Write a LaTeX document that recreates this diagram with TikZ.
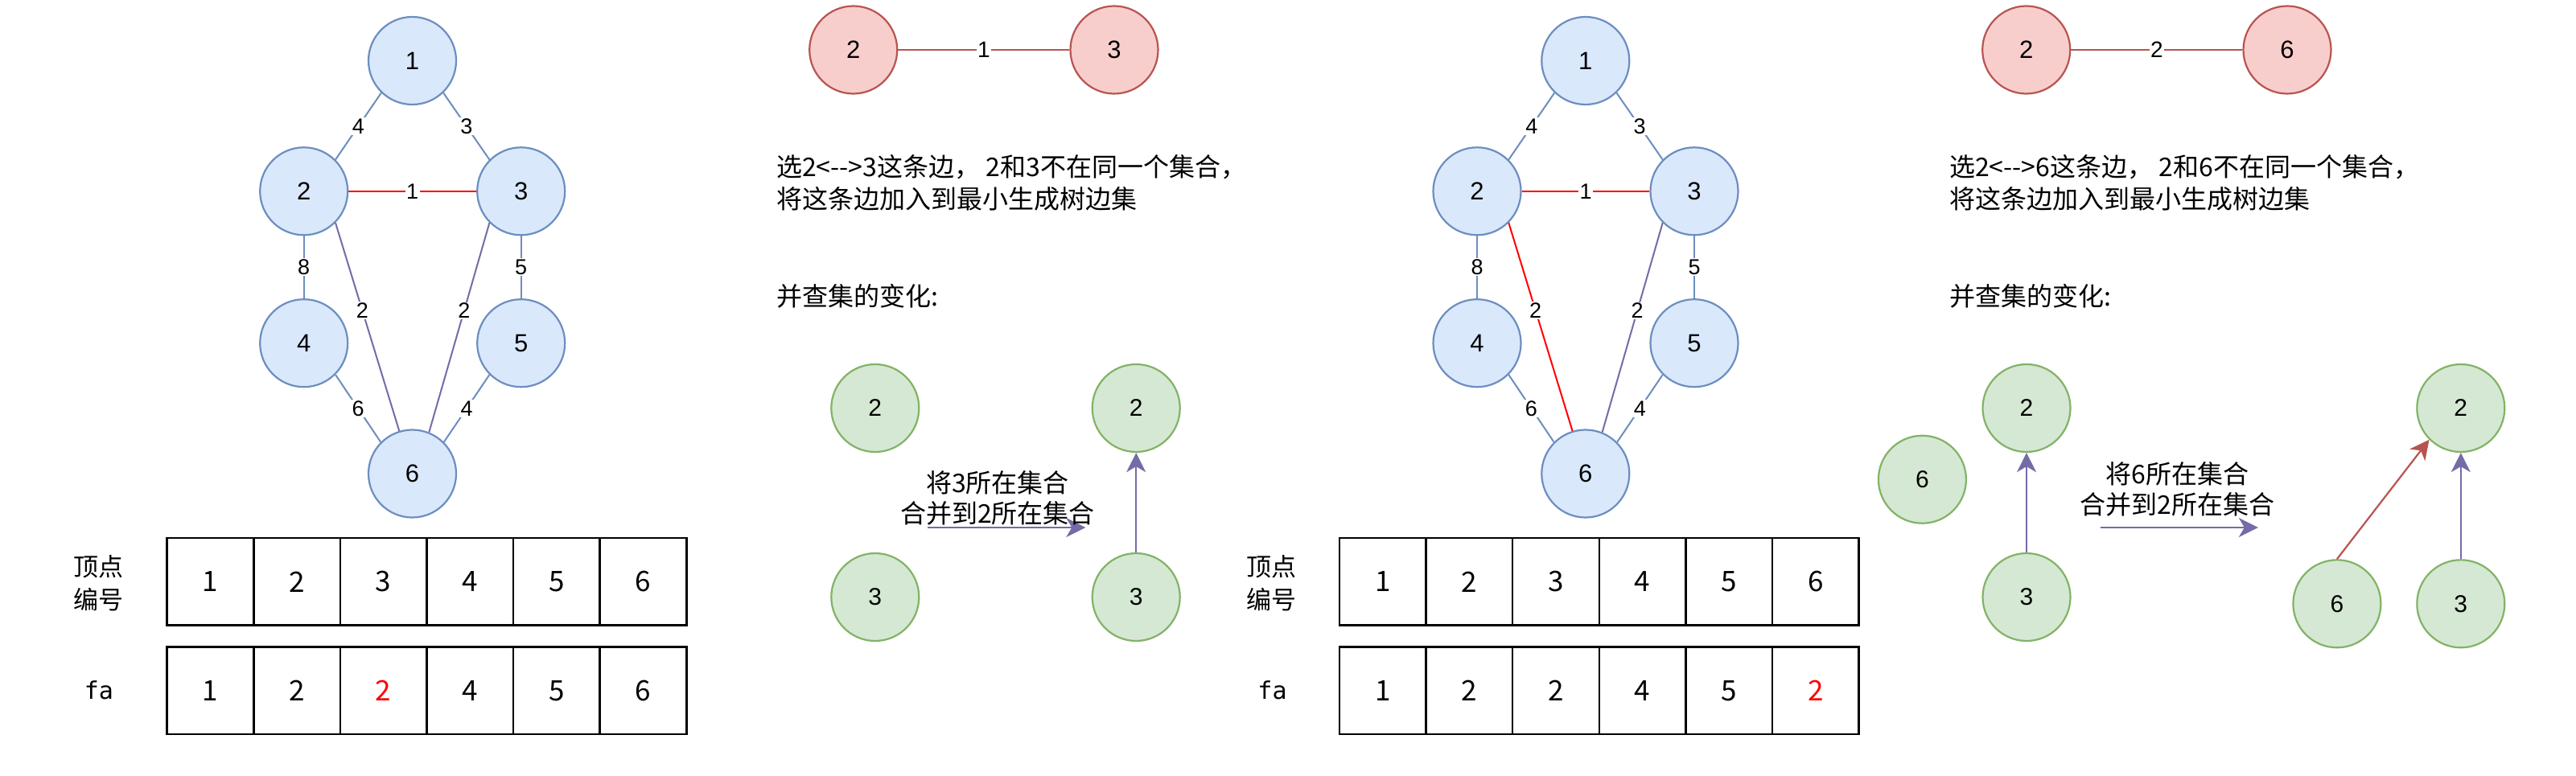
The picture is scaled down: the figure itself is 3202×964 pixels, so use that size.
\documentclass[tikz,border=0pt]{standalone}
\usepackage{fontspec}
\setmainfont{Noto Sans CJK SC}
\newfontfamily\helv{Liberation Sans}
\newfontfamily\monof{DejaVu Sans Mono}
\usetikzlibrary{arrows.meta}
\definecolor{bfill}{HTML}{DAE8FC}
\definecolor{bline}{HTML}{6C8EBF}
\definecolor{pline}{HTML}{736CA8}
\definecolor{rfill}{HTML}{F8CECC}
\definecolor{rline}{HTML}{B85450}
\definecolor{gfill}{HTML}{D5E8D4}
\definecolor{gline}{HTML}{82B366}
\definecolor{pure}{HTML}{FF0000}
\begin{document}
\begin{tikzpicture}[x=1pt,y=-1pt,
 vnode/.style={circle, minimum size=109pt, inner sep=0pt, line width=2.2pt, text=black, font=\fontsize{31}{31}\selectfont\helv},
 bnode/.style={vnode, fill=bfill, draw=bline},
 rnode/.style={vnode, fill=rfill, draw=rline},
 gnode/.style={vnode, fill=gfill, draw=gline, font=\fontsize{30}{30}\selectfont\helv},
 edge/.style={line width=2pt},
 elab/.style={fill=white, text=black, inner sep=1.5pt, font=\fontsize{27}{27}\selectfont\helv},
 cell/.style={draw=black, line width=2.5pt, minimum width=107.6pt, minimum height=108.5pt, inner sep=0pt, font=\fontsize{35}{35}\selectfont},
 txt/.style={font=\fontsize{32}{40}\selectfont, inner sep=0pt},
 mtxt/.style={font=\fontsize{32}{38}\selectfont, inner sep=0pt, align=center},
 ltxt/.style={font=\fontsize{31}{41}\selectfont, inner sep=0pt, align=center},
 monotxt/.style={font=\fontsize{30}{30}\selectfont\monof, inner sep=0pt},
 arr/.style={line width=2.2pt, -{Stealth[length=24pt, width=24pt, inset=7pt]}},
]
\fill[white] (0,0) rectangle (3202,964);
\useasboundingbox (0,0) rectangle (3202,964);

% ---------------- left graph ----------------
\node[bnode] (a1) at (512.5,75.5) {1};
\node[bnode] (a2) at (377.7,237.8) {2};
\node[bnode] (a3) at (647.7,237.8) {3};
\node[bnode] (a4) at (377.7,426.7) {4};
\node[bnode] (a5) at (647.7,426.7) {5};
\node[bnode] (a6) at (512.5,589) {6};
\draw[edge, bline] (a1.226) -- node[elab]{4} (a2.45);
\draw[edge, bline] (a1.-46) -- node[elab]{3} (a3.135);
\draw[edge, pure] (a2.east) -- node[elab]{1} (a3.west);
\draw[edge, bline] (a2.south) -- node[elab]{8} (a4.north);
\draw[edge, bline] (a3.south) -- node[elab]{5} (a5.north);
\draw[edge, pline] (a2.-45) -- node[elab, pos=0.42]{2} (a6.107);
\draw[edge, pline] (a3.225) -- node[elab, pos=0.42]{2} (a6.68);
\draw[edge, bline] (a4.-45) -- node[elab]{6} (a6.135);
\draw[edge, bline] (a5.225) -- node[elab]{4} (a6.45);

% red pair left
\node[rnode] (ra) at (1060.7,62) {2};
\node[rnode] (rb) at (1385,62) {3};
\draw[edge, rline] (ra) -- node[elab, font=\fontsize{28}{28}\selectfont\helv]{1} (rb);

\node[txt, anchor=west, align=left] (d1) at (965,227) {选2<-{}->3这条边，\ 2和3不在同一个集合，\\将这条边加入到最小生成树边集};
\node[txt, anchor=west] (e1) at (965,368) {并查集的变化:};

% union-find left
\node[gnode] (g2l) at (1087.8,507.5) {2};
\node[gnode] (g3l) at (1087.8,742.5) {3};
\node[gnode] (g2r) at (1412.2,507.5) {2};
\node[gnode] (g3r) at (1412.2,742.5) {3};
\draw[arr, pline] (g3r.north) -- (g2r.south);
\coordinate (h1s) at (1152.7,656);
\coordinate (h1e) at (1349.3,656);
\draw[arr, pline] (h1s) -- (h1e);
\node[mtxt] (m1) at (1240,619) {将3所在集合\\合并到2所在集合};

% tables left
\node[ltxt] (lab1) at (122.5,725.5) {顶点\\编号};
\node[monotxt] (fa1) at (123,858) {fa};
\foreach \i/\v in {1/1,2/2,3/3,4/4,5/5,6/6}
  \node[cell] (pa\i) at ({261.5+107.6*(\i-1)},723.3) {\v};
\foreach \i/\v in {1/1,2/2,3/{\textcolor{pure}{2}},4/4,5/5,6/6}
  \node[cell] (qa\i) at ({261.5+107.6*(\i-1)},858.8) {\v};

% ---------------- right graph ----------------
\node[bnode] (b1) at (1970.8,75.5) {1};
\node[bnode] (b2) at (1836,237.8) {2};
\node[bnode] (b3) at (2106,237.8) {3};
\node[bnode] (b4) at (1836,426.7) {4};
\node[bnode] (b5) at (2106,426.7) {5};
\node[bnode] (b6) at (1970.8,589) {6};
\draw[edge, bline] (b1.226) -- node[elab]{4} (b2.45);
\draw[edge, bline] (b1.-46) -- node[elab]{3} (b3.135);
\draw[edge, pure] (b2.east) -- node[elab]{1} (b3.west);
\draw[edge, bline] (b2.south) -- node[elab]{8} (b4.north);
\draw[edge, bline] (b3.south) -- node[elab]{5} (b5.north);
\draw[edge, pure] (b2.-45) -- node[elab, pos=0.42]{2} (b6.107);
\draw[edge, pline] (b3.225) -- node[elab, pos=0.42]{2} (b6.68);
\draw[edge, bline] (b4.-45) -- node[elab]{6} (b6.135);
\draw[edge, bline] (b5.225) -- node[elab]{4} (b6.45);

% red pair right
\node[rnode] (rc) at (2518.7,62) {2};
\node[rnode] (rd) at (2843,62) {6};
\draw[edge, rline] (rc) -- node[elab, font=\fontsize{28}{28}\selectfont\helv]{2} (rd);

\node[txt, anchor=west, align=left] (d2) at (2423,227) {选2<-{}->6这条边，\ 2和6不在同一个集合，\\将这条边加入到最小生成树边集};
\node[txt, anchor=west] (e2) at (2423,368) {并查集的变化:};

% union-find right
\node[gnode] (k6) at (2389.4,596.2) {6};
\node[gnode] (k2) at (2519,507.5) {2};
\node[gnode] (k3) at (2519,742.5) {3};
\draw[arr, pline] (k3.north) -- (k2.south);
\coordinate (h2s) at (2610.6,656);
\coordinate (h2e) at (2806.8,656);
\draw[arr, pline] (h2s) -- (h2e);
\node[mtxt] (m2) at (2706.5,608) {将6所在集合\\合并到2所在集合};
\node[gnode] (n2) at (3058.8,507.5) {2};
\node[gnode] (n6) at (2904.9,750.8) {6};
\node[gnode] (n3) at (3058.8,750.8) {3};
\draw[arr, rline] (n6.north) -- (n2.225);
\draw[arr, pline] (n3.north) -- (n2.south);

% tables right
\node[ltxt] (lab2) at (1580.8,725.5) {顶点\\编号};
\node[monotxt] (fa2) at (1581.5,858) {fa};
\foreach \i/\v in {1/1,2/2,3/3,4/4,5/5,6/6}
  \node[cell] (pb\i) at ({1718.8+107.6*(\i-1)},723.3) {\v};
\foreach \i/\v in {1/1,2/2,3/2,4/4,5/5,6/{\textcolor{pure}{2}}}
  \node[cell] (qb\i) at ({1718.8+107.6*(\i-1)},858.8) {\v};
\end{tikzpicture}
\end{document}
